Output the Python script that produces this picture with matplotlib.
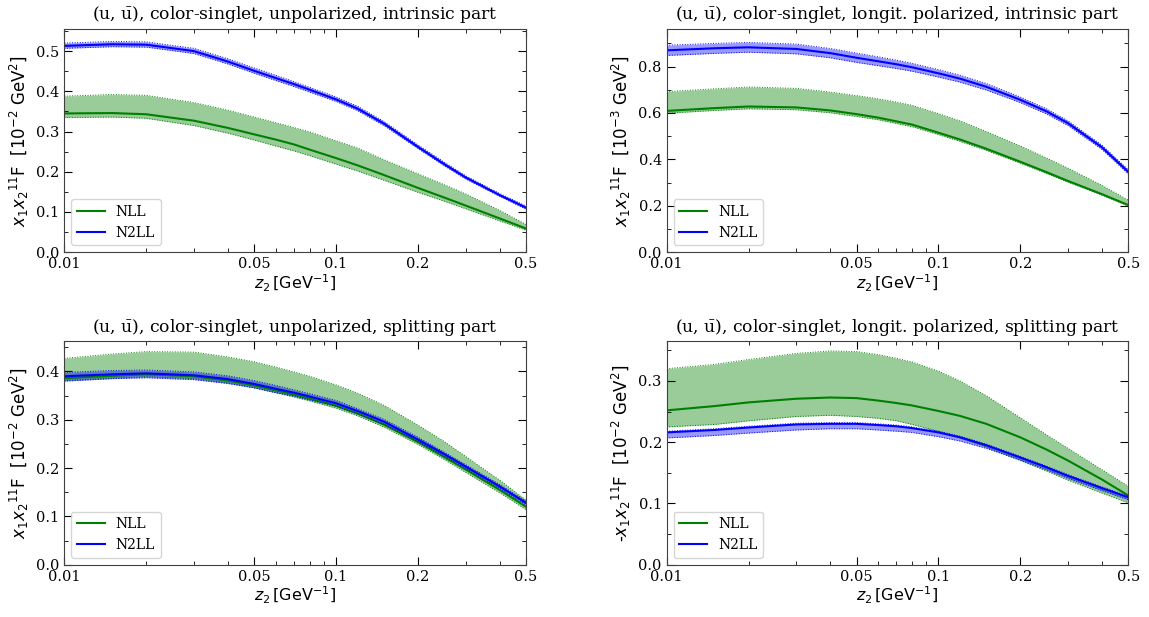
import matplotlib
matplotlib.use("Agg")
import matplotlib.pyplot as plt
from matplotlib.ticker import (FixedLocator, FixedFormatter, MultipleLocator,
                               LogLocator, NullFormatter, FormatStrFormatter)

plt.rcParams['font.family'] = 'DejaVu Serif'
plt.rcParams['mathtext.fontset'] = 'dejavusans'

# z_2 sampling points [GeV^-1]
z = [0.01, 0.015, 0.02, 0.03, 0.04, 0.05, 0.06, 0.07, 0.08, 0.1, 0.12, 0.15, 0.2, 0.25, 0.3, 0.4, 0.5]

# panel 1: unpolarized, intrinsic part  [1e-2 GeV^2]
p1_nll    = [0.345, 0.346, 0.343, 0.327, 0.309, 0.293, 0.280, 0.268, 0.255, 0.234, 0.216, 0.192, 0.160, 0.136, 0.116, 0.084, 0.059]
p1_nll_lo = [0.335, 0.336, 0.333, 0.315, 0.296, 0.279, 0.264, 0.252, 0.240, 0.219, 0.202, 0.179, 0.149, 0.127, 0.108, 0.078, 0.055]
p1_nll_hi = [0.388, 0.392, 0.390, 0.372, 0.353, 0.336, 0.322, 0.310, 0.299, 0.277, 0.259, 0.230, 0.195, 0.168, 0.145, 0.104, 0.069]
p1_n2ll    = [0.513, 0.517, 0.516, 0.500, 0.474, 0.451, 0.433, 0.418, 0.404, 0.380, 0.357, 0.320, 0.262, 0.219, 0.186, 0.142, 0.111]
p1_n2ll_lo = [0.507, 0.511, 0.510, 0.494, 0.468, 0.445, 0.427, 0.412, 0.398, 0.375, 0.352, 0.315, 0.258, 0.215, 0.182, 0.139, 0.107]
p1_n2ll_hi = [0.520, 0.524, 0.523, 0.507, 0.481, 0.458, 0.440, 0.424, 0.410, 0.386, 0.363, 0.325, 0.267, 0.224, 0.190, 0.146, 0.115]

# panel 2: longit. polarized, intrinsic part  [1e-3 GeV^2]
p2_nll    = [0.609, 0.621, 0.628, 0.624, 0.611, 0.595, 0.580, 0.564, 0.550, 0.515, 0.486, 0.446, 0.390, 0.345, 0.307, 0.250, 0.203]
p2_nll_lo = [0.599, 0.611, 0.618, 0.614, 0.601, 0.585, 0.571, 0.555, 0.541, 0.507, 0.478, 0.439, 0.384, 0.339, 0.302, 0.246, 0.199]
p2_nll_hi = [0.692, 0.704, 0.712, 0.706, 0.690, 0.675, 0.661, 0.647, 0.633, 0.597, 0.566, 0.520, 0.458, 0.406, 0.362, 0.288, 0.224]
p2_n2ll    = [0.870, 0.879, 0.883, 0.876, 0.858, 0.838, 0.823, 0.810, 0.797, 0.771, 0.748, 0.713, 0.657, 0.607, 0.556, 0.452, 0.346]
p2_n2ll_lo = [0.848, 0.857, 0.862, 0.855, 0.838, 0.818, 0.804, 0.792, 0.780, 0.755, 0.733, 0.699, 0.645, 0.596, 0.546, 0.443, 0.337]
p2_n2ll_hi = [0.892, 0.900, 0.904, 0.897, 0.878, 0.858, 0.842, 0.828, 0.814, 0.787, 0.763, 0.727, 0.669, 0.618, 0.566, 0.461, 0.355]

# panel 3: unpolarized, splitting part  [1e-2 GeV^2]
p3_nll    = [0.386, 0.391, 0.394, 0.390, 0.381, 0.371, 0.361, 0.352, 0.344, 0.329, 0.313, 0.290, 0.254, 0.223, 0.197, 0.155, 0.120]
p3_nll_lo = [0.381, 0.386, 0.389, 0.385, 0.376, 0.366, 0.356, 0.347, 0.339, 0.324, 0.308, 0.285, 0.249, 0.218, 0.191, 0.149, 0.114]
p3_nll_hi = [0.427, 0.436, 0.441, 0.440, 0.430, 0.420, 0.409, 0.399, 0.390, 0.372, 0.355, 0.330, 0.289, 0.255, 0.224, 0.175, 0.134]
p3_n2ll    = [0.390, 0.394, 0.396, 0.392, 0.384, 0.374, 0.364, 0.356, 0.348, 0.334, 0.318, 0.296, 0.259, 0.229, 0.203, 0.162, 0.128]
p3_n2ll_lo = [0.380, 0.385, 0.387, 0.383, 0.375, 0.366, 0.356, 0.349, 0.341, 0.328, 0.312, 0.291, 0.255, 0.225, 0.199, 0.158, 0.124]
p3_n2ll_hi = [0.398, 0.402, 0.403, 0.399, 0.391, 0.381, 0.371, 0.362, 0.354, 0.340, 0.323, 0.301, 0.264, 0.233, 0.207, 0.166, 0.132]

# panel 4: longit. polarized, splitting part  [1e-2 GeV^2], sign flipped
p4_nll    = [0.252, 0.259, 0.265, 0.271, 0.273, 0.272, 0.268, 0.264, 0.260, 0.251, 0.243, 0.230, 0.208, 0.188, 0.170, 0.139, 0.113]
p4_nll_lo = [0.225, 0.229, 0.235, 0.242, 0.244, 0.242, 0.239, 0.235, 0.229, 0.218, 0.207, 0.192, 0.170, 0.153, 0.138, 0.117, 0.101]
p4_nll_hi = [0.320, 0.327, 0.335, 0.345, 0.349, 0.348, 0.343, 0.337, 0.331, 0.316, 0.300, 0.276, 0.240, 0.212, 0.190, 0.155, 0.128]
p4_n2ll    = [0.216, 0.220, 0.224, 0.229, 0.230, 0.230, 0.228, 0.226, 0.223, 0.216, 0.208, 0.195, 0.175, 0.159, 0.145, 0.125, 0.110]
p4_n2ll_lo = [0.207, 0.211, 0.215, 0.220, 0.222, 0.222, 0.220, 0.218, 0.216, 0.209, 0.202, 0.190, 0.171, 0.155, 0.141, 0.121, 0.106]
p4_n2ll_hi = [0.218, 0.222, 0.226, 0.231, 0.232, 0.232, 0.230, 0.228, 0.225, 0.218, 0.210, 0.197, 0.177, 0.161, 0.147, 0.127, 0.112]

titles = [
    r"(u, $\mathregular{\bar{u}}$), color-singlet, unpolarized, intrinsic part",
    r"(u, $\mathregular{\bar{u}}$), color-singlet, longit. polarized, intrinsic part",
    r"(u, $\mathregular{\bar{u}}$), color-singlet, unpolarized, splitting part",
    r"(u, $\mathregular{\bar{u}}$), color-singlet, longit. polarized, splitting part",
]
ylabels = [
    r"$x_1x_2{}^{11}$F  [$10^{-2}$ GeV$^2$]",
    r"$x_1x_2{}^{11}$F  [$10^{-3}$ GeV$^2$]",
    r"$x_1x_2{}^{11}$F  [$10^{-2}$ GeV$^2$]",
    r"-$x_1x_2{}^{11}$F  [$10^{-2}$ GeV$^2$]",
]
ytops = [0.555, 0.962, 0.462, 0.3645]
ymajor = [0.1, 0.2, 0.1, 0.1]

panels = [
    (p1_nll, p1_nll_lo, p1_nll_hi, p1_n2ll, p1_n2ll_lo, p1_n2ll_hi),
    (p2_nll, p2_nll_lo, p2_nll_hi, p2_n2ll, p2_n2ll_lo, p2_n2ll_hi),
    (p3_nll, p3_nll_lo, p3_nll_hi, p3_n2ll, p3_n2ll_lo, p3_n2ll_hi),
    (p4_nll, p4_nll_lo, p4_nll_hi, p4_n2ll, p4_n2ll_lo, p4_n2ll_hi),
]

fig, axes = plt.subplots(2, 2, figsize=(11.49, 6.17), dpi=100)
fig.subplots_adjust(left=0.056, right=0.982, top=0.953, bottom=0.0848,
                    wspace=0.305, hspace=0.40)

for i, ax in enumerate(axes.flat):
    nll, nll_lo, nll_hi, n2ll, n2ll_lo, n2ll_hi = panels[i]

    # NLL band + central line
    ax.fill_between(z, nll_lo, nll_hi, color='green', alpha=0.4, lw=0)
    ax.plot(z, nll_lo, color='green', lw=0.7, ls=':')
    ax.plot(z, nll_hi, color='green', lw=0.7, ls=':')
    ax.plot(z, nll, color='green', lw=1.5, label='NLL')

    # N2LL band + central line
    ax.fill_between(z, n2ll_lo, n2ll_hi, color='blue', alpha=0.4, lw=0)
    ax.plot(z, n2ll_lo, color='blue', lw=0.7, ls=':')
    ax.plot(z, n2ll_hi, color='blue', lw=0.7, ls=':')
    ax.plot(z, n2ll, color='blue', lw=1.5, label='N2LL')

    ax.set_xscale('log')
    ax.set_xlim(0.01, 0.5)
    ax.set_ylim(0, ytops[i])
    ax.xaxis.set_major_locator(FixedLocator([0.01, 0.05, 0.1, 0.2, 0.5]))
    ax.xaxis.set_major_formatter(FixedFormatter(['0.01', '0.05', '0.1', '0.2', '0.5']))
    ax.xaxis.set_minor_locator(LogLocator(base=10, subs=range(2, 10)))
    ax.xaxis.set_minor_formatter(NullFormatter())
    ax.yaxis.set_major_locator(MultipleLocator(ymajor[i]))
    ax.yaxis.set_minor_locator(MultipleLocator(ymajor[i] / 2))
    ax.yaxis.set_major_formatter(FormatStrFormatter('%.1f'))

    ax.tick_params(which='both', direction='in', top=True, right=True, labelsize=10.5)
    ax.tick_params(which='major', length=6)
    ax.tick_params(which='minor', length=3)
    for s in ax.spines.values():
        s.set_color('0.25')

    ax.set_title(titles[i], fontsize=12.3, pad=7)
    ax.set_xlabel(r"$z_2\,[\mathrm{GeV}^{-1}]$", fontsize=11.5, labelpad=1)
    ax.set_ylabel(ylabels[i], fontsize=12, family='DejaVu Sans', labelpad=4)
    ax.legend(loc='lower left', fontsize=10)

fig.savefig('out.png', dpi=100)
